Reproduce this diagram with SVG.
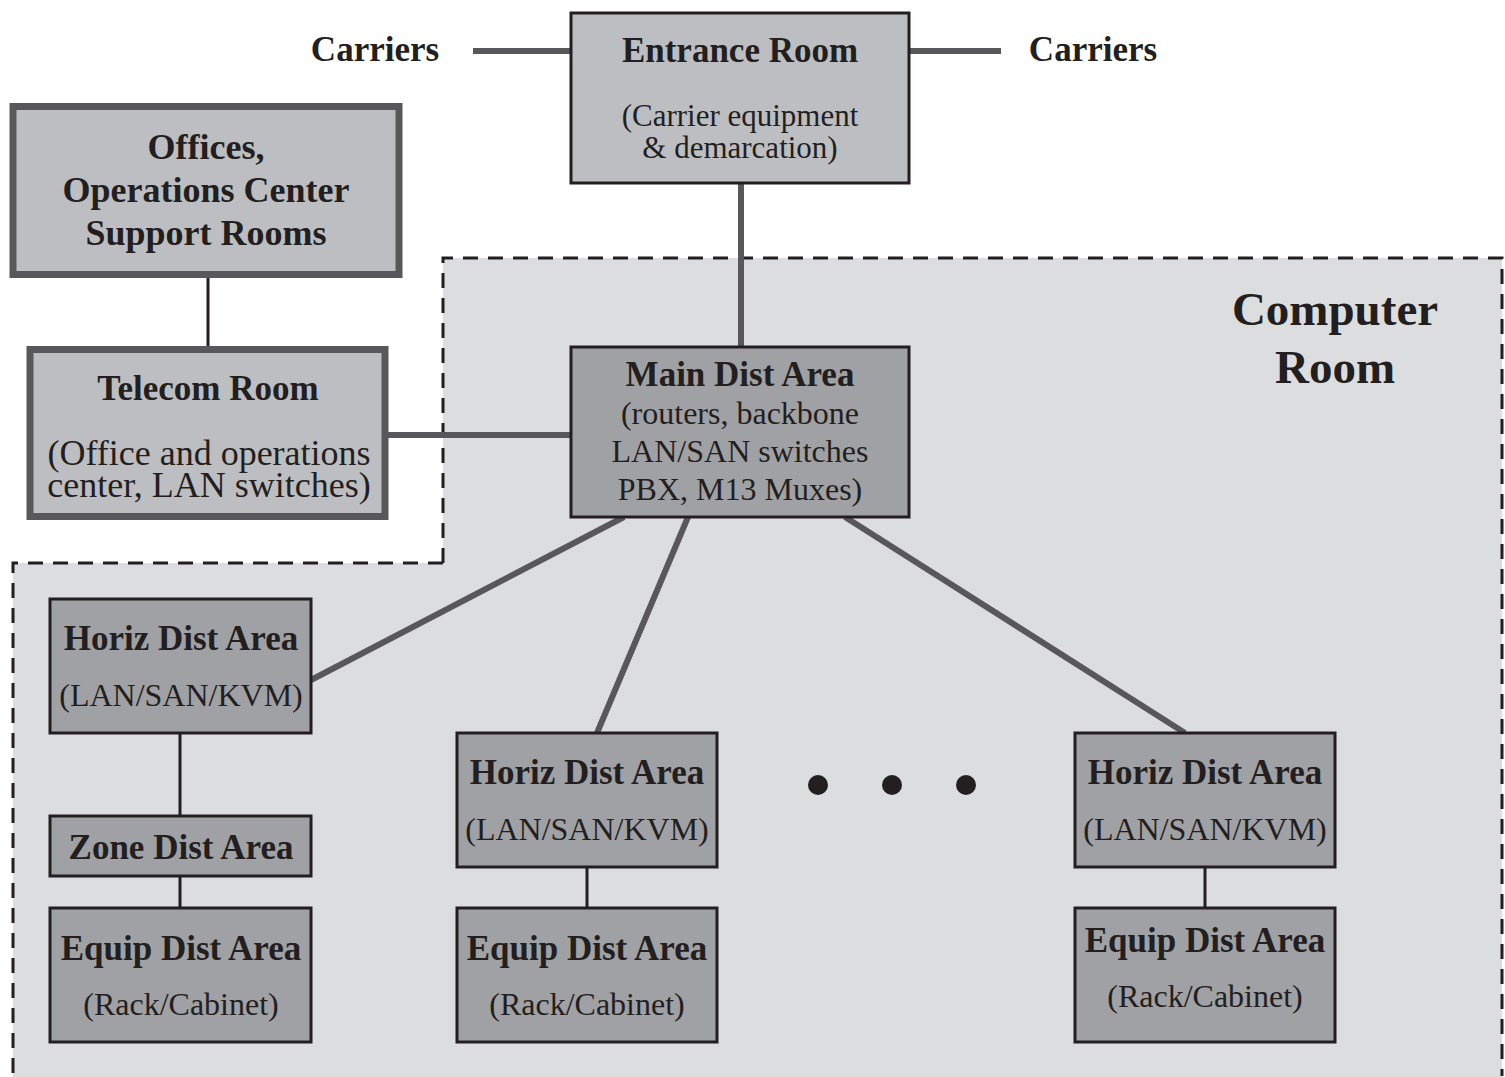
<svg xmlns="http://www.w3.org/2000/svg" width="1505" height="1077" viewBox="0 0 1505 1077">
<style>
.t{font-family:"Liberation Serif","Times New Roman",serif;font-weight:bold;fill:#231f20;text-anchor:middle}
.s{font-family:"Liberation Serif","Times New Roman",serif;fill:#231f20;text-anchor:middle}
.lite{fill:#bdbec2;stroke:#231f20;stroke-width:3}
.thick{fill:#bdbec2;stroke:#58585a;stroke-width:7}
.dark{fill:#a0a1a5;stroke:#231f20;stroke-width:3}
.gc{stroke:#58585a;stroke-width:6;fill:none}
.bc{stroke:#231f20;stroke-width:3;fill:none}
</style>
<rect width="1505" height="1077" fill="#ffffff"/>
<g id="computer-room">
<path d="M443,258 H1502 V1077 H13 V563 H443 Z" fill="#dcdddf"/>
<path d="M443,563 V258 H1502 V1076 M443,563 H13 V1077" fill="none" stroke="#231f20" stroke-width="3" stroke-dasharray="15,10"/>
<text class="t" x="1335" y="325" font-size="47">Computer</text>
<text class="t" x="1335" y="383" font-size="47">Room</text>
</g>
<g id="connectors">
<line class="gc" x1="473" y1="51" x2="571" y2="51"/>
<line class="gc" x1="909" y1="51" x2="1001" y2="51"/>
<line class="gc" x1="741" y1="183" x2="741" y2="347" stroke-width="5"/>
<line class="bc" x1="208" y1="277" x2="208" y2="347"/>
<line class="gc" x1="388" y1="435" x2="571" y2="435"/>
<line class="gc" x1="624" y1="517" x2="311" y2="680" stroke-width="7"/>
<line class="gc" x1="688" y1="517" x2="597" y2="733"/>
<line class="gc" x1="845" y1="517" x2="1185" y2="733"/>
<line class="bc" x1="180" y1="733" x2="180" y2="816"/>
<line class="bc" x1="180" y1="876" x2="180" y2="908"/>
<line class="bc" x1="587" y1="867" x2="587" y2="908"/>
<line class="bc" x1="1205" y1="867" x2="1205" y2="908"/>
</g>
<g id="carriers-left"><text class="t" x="375" y="61" font-size="35">Carriers</text></g>
<g id="carriers-right"><text class="t" x="1093" y="61" font-size="35">Carriers</text></g>
<g id="entrance-room">
<rect class="lite" x="571" y="13" width="338" height="170"/>
<text class="t" x="740" y="62" font-size="35">Entrance Room</text>
<text class="s" x="740" y="126" font-size="31">(Carrier equipment</text>
<text class="s" x="740" y="158" font-size="31">&amp; demarcation)</text>
</g>
<g id="offices">
<rect class="thick" x="13" y="106.5" width="386" height="168"/>
<text class="t" x="206" y="159" font-size="36">Offices,</text>
<text class="t" x="206" y="202" font-size="36">Operations Center</text>
<text class="t" x="206" y="245" font-size="36">Support Rooms</text>
</g>
<g id="telecom-room">
<rect class="thick" x="30" y="349.5" width="355" height="167" stroke-width="6"/>
<text class="t" x="208" y="400" font-size="35">Telecom Room</text>
<text class="s" x="209" y="465" font-size="36">(Office and operations</text>
<text class="s" x="209" y="497" font-size="36">center, LAN switches)</text>
</g>
<g id="main-dist-area">
<rect class="dark" x="571" y="347" width="338" height="170"/>
<text class="t" x="740" y="386" font-size="35">Main Dist Area</text>
<text class="s" x="740" y="424" font-size="32">(routers, backbone</text>
<text class="s" x="740" y="462" font-size="32">LAN/SAN switches</text>
<text class="s" x="740" y="500" font-size="32">PBX, M13 Muxes)</text>
</g>
<g id="horiz-1">
<rect class="dark" x="50" y="599" width="261" height="134"/>
<text class="t" x="181" y="650" font-size="35">Horiz Dist Area</text>
<text class="s" x="181" y="706" font-size="32">(LAN/SAN/KVM)</text>
</g>
<g id="zone-1">
<rect class="dark" x="50" y="816" width="261" height="60"/>
<text class="t" x="181" y="859" font-size="35">Zone Dist Area</text>
</g>
<g id="equip-1">
<rect class="dark" x="50" y="908" width="261" height="134"/>
<text class="t" x="181" y="960" font-size="35">Equip Dist Area</text>
<text class="s" x="181" y="1015" font-size="32">(Rack/Cabinet)</text>
</g>
<g id="horiz-2">
<rect class="dark" x="457" y="733" width="260" height="134"/>
<text class="t" x="587" y="784" font-size="35">Horiz Dist Area</text>
<text class="s" x="587" y="840" font-size="32">(LAN/SAN/KVM)</text>
</g>
<g id="equip-2">
<rect class="dark" x="457" y="908" width="260" height="134"/>
<text class="t" x="587" y="960" font-size="35">Equip Dist Area</text>
<text class="s" x="587" y="1015" font-size="32">(Rack/Cabinet)</text>
</g>
<g id="ellipsis">
<ellipse cx="818" cy="785" rx="10" ry="10" fill="#231f20"/>
<ellipse cx="892" cy="785" rx="10" ry="10" fill="#231f20"/>
<ellipse cx="966" cy="785" rx="10" ry="10" fill="#231f20"/>
</g>
<g id="horiz-3">
<rect class="dark" x="1075" y="733" width="260" height="134"/>
<text class="t" x="1205" y="784" font-size="35">Horiz Dist Area</text>
<text class="s" x="1205" y="840" font-size="32">(LAN/SAN/KVM)</text>
</g>
<g id="equip-3">
<rect class="dark" x="1075" y="908" width="260" height="134"/>
<text class="t" x="1205" y="952" font-size="35">Equip Dist Area</text>
<text class="s" x="1205" y="1007" font-size="32">(Rack/Cabinet)</text>
</g>
</svg>
